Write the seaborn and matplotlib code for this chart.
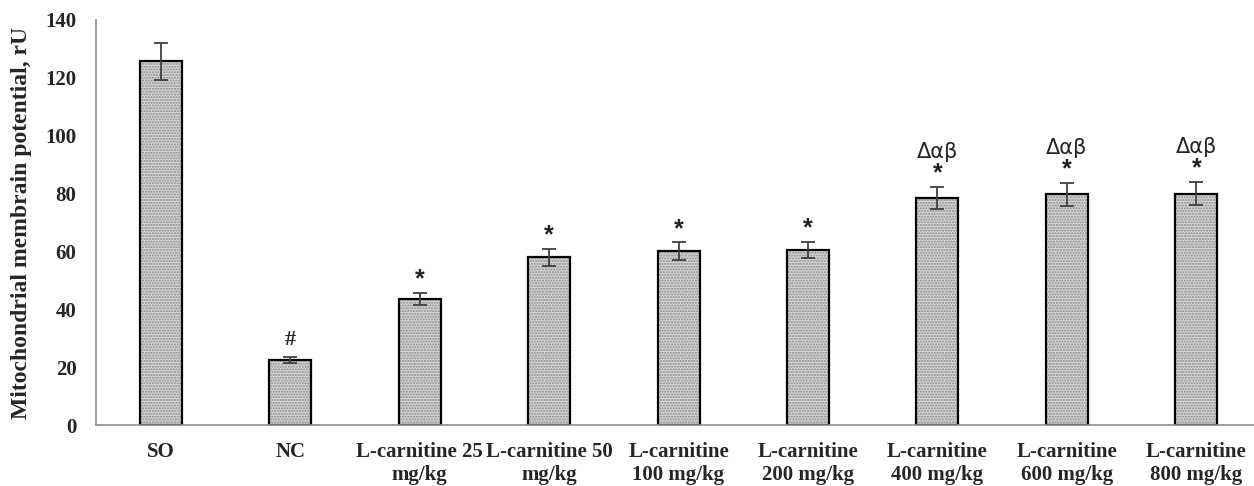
import numpy as np
import pandas as pd
import seaborn as sns
import matplotlib.pyplot as plt

groups = ["SO", "NC", "L-carnitine 25\nmg/kg", "L-carnitine 50\nmg/kg",
          "L-carnitine\n100 mg/kg", "L-carnitine\n200 mg/kg", "L-carnitine\n400 mg/kg",
          "L-carnitine\n600 mg/kg", "L-carnitine\n800 mg/kg"]
means = [125.7, 22.5, 43.6, 58.0, 60.1, 60.5, 78.6, 79.7, 80.0]
errors = [6.3, 1.0, 2.0, 3.0, 3.0, 2.8, 3.8, 4.0, 4.0]
marks = ["", "#", "*", "*", "*", "*", "*", "*", "*"]
greek = ["", "", "", "", "", "", "Δαβ", "Δαβ", "Δαβ"]

df = pd.DataFrame({"group": groups, "value": means})

sns.set_style("white")
fig = plt.figure(figsize=(12.54, 4.86), dpi=100)
ax = fig.add_axes([0.0766, 0.1255, 0.929, 0.8335])

sns.barplot(data=df, x="group", y="value", color="#d4d4d4", width=0.325,
            edgecolor="black", linewidth=1.6, saturation=1, ax=ax)
for p in ax.patches:
    p.set_hatch("......")
    p._hatch_color = (0.55, 0.55, 0.55, 1)

x = np.arange(len(groups))
ax.errorbar(x, means, yerr=errors, fmt="none", ecolor="#404040", elinewidth=1.3,
            capsize=5, capthick=1.3)

for i in range(len(groups)):
    top = means[i] + errors[i]
    if marks[i] == "#":
        ax.annotate("#", (x[i], top), xytext=(0, 5), textcoords="offset points",
                    ha="center", va="bottom", fontsize=16, fontweight="bold",
                    family="Liberation Serif")
    elif marks[i]:
        ax.annotate("*", (x[i], top), xytext=(0, 1), textcoords="offset points",
                    ha="center", va="bottom", fontsize=18, fontweight="bold",
                    family="Liberation Sans", color="#222222")
    if greek[i]:
        ax.annotate(greek[i], (x[i], top), xytext=(0, 18), textcoords="offset points",
                    ha="center", va="bottom", fontsize=15, family="DejaVu Sans")

ax.set_xlim(-0.5, len(groups) - 0.5)
ax.set_ylim(0, 140)
ax.set_yticks(range(0, 141, 20))
ax.set_xlabel("")
ax.set_ylabel("Mitochondrial membrain potential, rU", fontsize=17, fontweight="bold",
              family="Liberation Serif", labelpad=10)
ax.tick_params(axis="both", length=0, labelsize=15)
for lab in ax.get_xticklabels() + ax.get_yticklabels():
    lab.set_fontfamily("Liberation Serif")
    lab.set_fontweight("bold")
ax.tick_params(axis="x", pad=12)
ax.tick_params(axis="y", pad=14)

for s in ["top", "right"]:
    ax.spines[s].set_visible(False)
for s in ["left", "bottom"]:
    ax.spines[s].set_color("#8c8c8c")
    ax.spines[s].set_linewidth(1.2)

fig.savefig("out.png", dpi=100)
